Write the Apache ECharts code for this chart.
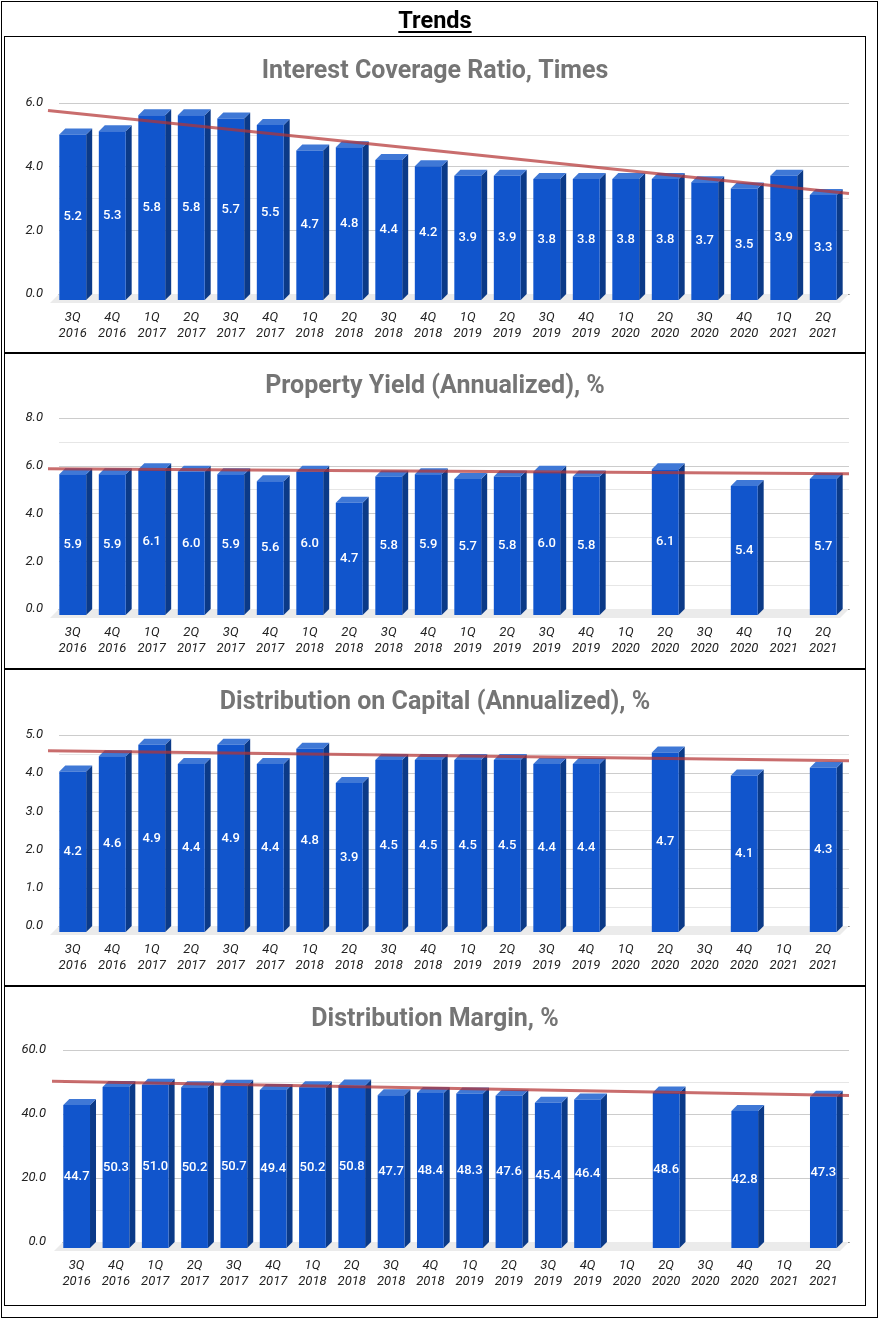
<!DOCTYPE html>
<html>
<head>
<meta charset="utf-8">
<script src="https://cdn.jsdelivr.net/npm/echarts@6/dist/echarts.min.js"></script>
<style>
  body { margin: 0; width: 882px; height: 1321px; position: relative; background: #fff; font-family: Roboto, "Noto Sans", sans-serif; }
  #main { position: absolute; left: 0; top: 0; width: 882px; height: 1321px; }
  .box { position: absolute; border: 1.5px solid #000; box-sizing: border-box; pointer-events: none; }
  #heading { position: absolute; left: 5px; width: 860px; top: 6px; text-align: center; font-weight: bold; font-size: 23.5px; text-decoration: underline; text-underline-offset: 3px; color: #000; }
</style>
</head>
<body>
<div id="main"></div>
<div class="box" style="left:1px;top:1px;width:877px;height:1317px"></div>
<div class="box" style="left:4px;top:36px;width:862px;height:318px"></div>
<div class="box" style="left:4px;top:352px;width:862px;height:318px"></div>
<div class="box" style="left:4px;top:668px;width:862px;height:319px"></div>
<div class="box" style="left:4px;top:985px;width:862px;height:321px"></div>
<div id="heading">Trends</div>
<script type="text/javascript">
    var quarters = ['3Q\n2016', '4Q\n2016', '1Q\n2017', '2Q\n2017', '3Q\n2017', '4Q\n2017',
        '1Q\n2018', '2Q\n2018', '3Q\n2018', '4Q\n2018', '1Q\n2019', '2Q\n2019',
        '3Q\n2019', '4Q\n2019', '1Q\n2020', '2Q\n2020', '3Q\n2020', '4Q\n2020',
        '1Q\n2021', '2Q\n2021'];

    var coverageRatio = [5.2, 5.3, 5.8, 5.8, 5.7, 5.5, 4.7, 4.8, 4.4, 4.2, 3.9, 3.9, 3.8, 3.8, 3.8, 3.8, 3.7, 3.5, 3.9, 3.3];
    var propertyYield = [5.9, 5.9, 6.1, 6.0, 5.9, 5.6, 6.0, 4.7, 5.8, 5.9, 5.7, 5.8, 6.0, 5.8, null, 6.1, null, 5.4, null, 5.7];
    var distCapital = [4.2, 4.6, 4.9, 4.4, 4.9, 4.4, 4.8, 3.9, 4.5, 4.5, 4.5, 4.5, 4.4, 4.4, null, 4.7, null, 4.1, null, 4.3];
    var distMargin = [44.7, 50.3, 51.0, 50.2, 50.7, 49.4, 50.2, 50.8, 47.7, 48.4, 48.3, 47.6, 45.4, 46.4, null, 48.6, null, 42.8, null, 47.3];

    var titles = ['Interest Coverage Ratio, Times', 'Property Yield (Annualized), %',
        'Distribution on Capital (Annualized), %', 'Distribution Margin, %'];
    var axisMax = [6, 8, 5, 60];
    var axisStep = [2, 2, 1, 20];

    var panels = [
        { data: coverageRatio, left: 59, top: 103, width: 790, height: 191, titleTop: 54 },
        { data: propertyYield, left: 59, top: 418, width: 790, height: 191, titleTop: 369 },
        { data: distCapital, left: 59, top: 735, width: 790, height: 191, titleTop: 685 },
        { data: distMargin, left: 63, top: 1050, width: 786, height: 192, titleTop: 1002 }
    ];

    var D = 6; // depth of the 3D bars, px

    // least squares trend over the non-empty points
    function trendOf(values) {
        var n = 0, sx = 0, sy = 0, sxy = 0, sxx = 0;
        values.forEach(function (v, i) {
            if (v == null) return;
            n++; sx += i; sy += v; sxy += i * v; sxx += i * i;
        });
        var b = (n * sxy - sx * sy) / (n * sxx - sx * sx);
        return { a: (sy - b * sx) / n, b: b };
    }

    function renderBar(params, api) {
        var v = api.value(1);
        if (isNaN(v)) return;
        var base = api.coord([api.value(0), 0]);
        var top = api.coord([api.value(0), v]);
        var w = api.size([1, 0])[0] * 0.68;
        var cx = base[0] - D;
        var x0 = cx - w / 2, x1 = cx + w / 2;
        var yb = base[1] + D, yt = top[1] + D;
        var children = [];
        if (params.dataIndex === 0) {
            var cs = params.coordSys;
            var fy = cs.y + cs.height;
            children.push({
                type: 'polygon',
                shape: { points: [[cs.x, fy], [cs.x + cs.width, fy], [cs.x + cs.width - 9, fy + 9], [cs.x - 9, fy + 9]] },
                style: { fill: '#ebebeb' }
            });
        }
        children.push({
            type: 'polygon',
            shape: { points: [[x1, yt], [x1 + D, yt - D], [x1 + D, yb - D], [x1, yb]] },
            style: { fill: '#0b3a88' }
        }, {
            type: 'polygon',
            shape: { points: [[x0, yt], [x1, yt], [x1 + D, yt - D], [x0 + D, yt - D]] },
            style: { fill: '#3f78d6' }
        }, {
            type: 'rect',
            shape: { x: x0, y: yt, width: w, height: yb - yt },
            style: { fill: '#1155cc' }
        }, {
            type: 'text',
            style: {
                x: cx, y: (yt + yb) / 2, text: v.toFixed(1),
                fill: '#fff', fontSize: 13, fontWeight: 500, fontFamily: 'Roboto',
                align: 'center', verticalAlign: 'middle'
            }
        });
        return { type: 'group', children: children };
    }

    function trendRenderer(tr) {
        return function (params, api) {
            var cs = params.coordSys;
            var band = cs.width / quarters.length;
            var xs = [cs.x - 11, cs.x + cs.width];
            var pts = xs.map(function (px) {
                var idx = (px - cs.x) / band - 0.5;
                var y = api.coord([0, tr.a + tr.b * idx])[1];
                return [px, y];
            });
            return {
                type: 'polyline',
                shape: { points: pts },
                style: { stroke: 'rgba(180, 52, 52, 0.72)', lineWidth: 3, fill: null }
            };
        };
    }

    var option = {
        animation: false,
        title: [],
        grid: [],
        xAxis: [],
        yAxis: [],
        series: []
    };

    panels.forEach(function (p, k) {
        option.title.push({
            text: titles[k], left: 430, top: p.titleTop, textAlign: 'center',
            textStyle: { fontFamily: 'Roboto', fontSize: 25, fontWeight: 'bold', color: '#757575' }
        });
        option.grid.push({ left: p.left, top: p.top, width: p.width, height: p.height });
        option.xAxis.push({
            type: 'category', gridIndex: k, data: quarters,
            axisLine: { lineStyle: { color: '#333', width: 1 } },
            axisTick: { show: false },
            axisLabel: {
                margin: 16, interval: 0, fontFamily: 'Roboto', fontStyle: 'italic',
                fontSize: 13, color: '#222', lineHeight: 16, padding: [0, 12, 0, 0]
            }
        });
        option.yAxis.push({
            type: 'value', gridIndex: k, min: 0, max: axisMax[k], interval: axisStep[k],
            axisLine: { show: false }, axisTick: { show: false },
            axisLabel: {
                margin: k === 3 ? 17 : 16, fontFamily: 'Roboto', fontStyle: 'italic', fontSize: 13, color: '#222',
                formatter: function (v) { return v.toFixed(1); }
            },
            splitLine: { lineStyle: { color: '#cccccc' } },
            minorTick: { show: false, splitNumber: 2 },
            minorSplitLine: { show: true, lineStyle: { color: '#e6e6e6' } }
        });
        option.series.push({
            type: 'custom', xAxisIndex: k, yAxisIndex: k, clip: false,
            renderItem: renderBar,
            encode: { x: 0, y: 1 },
            data: p.data.map(function (v, i) { return [i, v == null ? '-' : v]; }),
            z: 2
        });
        option.series.push({
            type: 'custom', xAxisIndex: k, yAxisIndex: k, clip: false,
            renderItem: trendRenderer(trendOf(p.data)),
            encode: { x: 0, y: 1 },
            data: [[0, 0]],
            z: 5
        });
    });

    var chart = echarts.init(document.getElementById('main'));
    chart.setOption(option);
</script>
</body>
</html>
